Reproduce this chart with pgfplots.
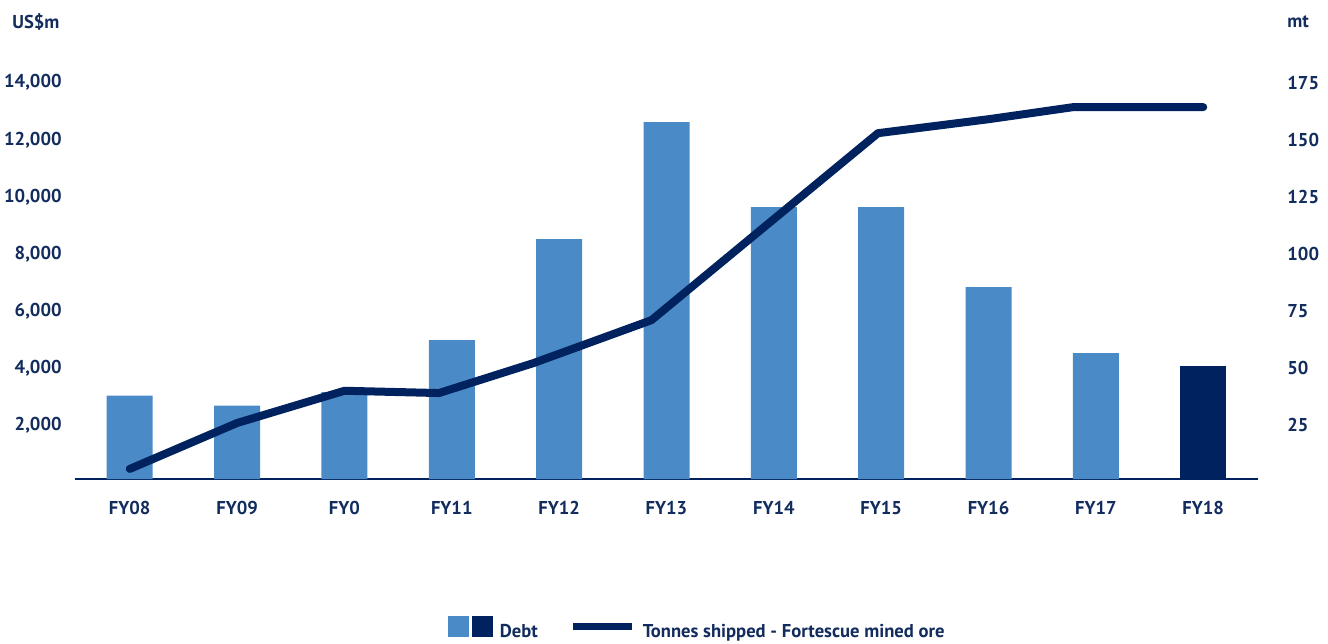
\documentclass[border=0pt]{standalone}
\usepackage{fontspec}
\setmainfont{PT Sans}
\usepackage{pgfplots}
\pgfplotsset{compat=1.18}
\definecolor{lightbar}{RGB}{74,139,199}
\definecolor{navy}{RGB}{0,34,94}
\definecolor{txt}{RGB}{18,44,94}
\newcommand{\lf}{\bfseries\fontsize{9.3}{11}\selectfont}
\begin{document}
\begin{tikzpicture}
\useasboundingbox (0pt,0pt) rectangle (664pt,321.5pt);
\begin{axis}[
  at={(37.5pt,82pt)}, anchor=south west,
  scale only axis, width=591.5pt, height=200pt,
  xmin=-0.51, xmax=10.51, ymin=0, ymax=14000,
  axis lines*=left,
  y axis line style={draw=none},
  x axis line style={navy, line width=1pt, -},
  major tick length=0pt,
  xtick={0,...,10},
  xticklabels={FY08,FY09,FY0,FY11,FY12,FY13,FY14,FY15,FY16,FY17,FY18},
  ytick={2000,4000,...,14000},
  /pgf/number format/assume math mode=true,
  /pgf/number format/fixed,
  /pgf/number format/1000 sep={,},
  scaled y ticks=false,
  tick label style={font=\lf, text=txt, inner sep=0pt},
  xticklabel style={anchor=north, yshift=-11pt},
  yticklabel style={anchor=east, xshift=-6.5pt, yshift=-1.8pt},
  clip=false,
]
\addplot[ybar, bar shift=0pt, bar width=23pt, fill=lightbar, draw=none]
  coordinates {(0,2914) (1,2564) (2,3044) (3,4863) (4,8396) (5,12489) (6,9516) (7,9516) (8,6717) (9,4408)};
\addplot[ybar, bar shift=0pt, bar width=23pt, fill=navy, draw=none]
  coordinates {(10,3953)};
\end{axis}
\begin{axis}[
  at={(37.5pt,82pt)}, anchor=south west,
  scale only axis, width=591.5pt, height=200pt,
  xmin=-0.51, xmax=10.51, ymin=0, ymax=175,
  axis y line*=right, axis x line=none,
  y axis line style={draw=none},
  major tick length=0pt,
  ytick={25,50,...,175},
  /pgf/number format/assume math mode=true,
  tick label style={font=\lf, text=txt, inner sep=0pt},
  yticklabel style={anchor=west, xshift=14.5pt, yshift=-1.8pt},
  clip=false,
  legend columns=2,
  legend style={draw=none, fill=none, inner sep=0pt, outer sep=0pt,
    at={(0.3153,-0.373)}, anchor=west, font=\lf, text=txt,
    nodes={inner sep=0pt},
    /tikz/every even column/.append style={column sep=16pt},
    /tikz/every odd column/.append style={column sep=3.5pt}},
  legend cell align=left,
]
\addlegendimage{legend image code/.code={
  \fill[lightbar] (0pt,-2pt) rectangle (10pt,8pt);
  \fill[navy] (12pt,-2pt) rectangle (22pt,8pt);}}
\addlegendentry{Debt}
\addplot[navy, line width=4pt, line cap=round, line join=round,
  legend image code/.code={\draw[navy, line width=3.5pt, line cap=butt] (0pt,3pt) -- (29.5pt,3pt);}]
  coordinates {(0,4.4) (1,24.5) (2,38.6) (2.88,37.6) (3.76,50.7) (4.86,69.5) (5.93,111) (6.97,151.3) (8,157.4) (8.79,162.7) (10,162.7)};
\addlegendentry{Tonnes shipped - Fortescue mined ore}
\end{axis}
\node[font=\lf, text=txt, anchor=west, inner sep=0pt] at (6pt,310.5pt) {US\$m};
\node[font=\lf, text=txt, anchor=west, inner sep=0pt] at (643.5pt,310.5pt) {mt};
\end{tikzpicture}
\end{document}
